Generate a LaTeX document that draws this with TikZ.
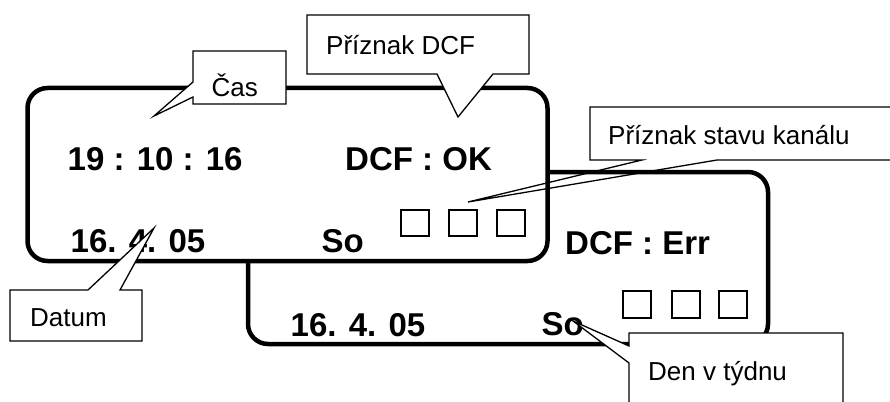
\documentclass[tikz,border=0pt]{standalone}
\usepackage{fontspec}
\setmainfont{Liberation Sans}
\begin{document}
\begin{tikzpicture}[x=1pt,y=-1pt,
  panel/.style={draw=black, line width=4.5pt, fill=white, rounded corners=20pt},
  callout/.style={draw=black, line width=1.3pt, fill=white, line join=miter},
  calloutline/.style={draw=black, line width=1.3pt, line join=miter},
  sq/.style={draw=black, line width=1.2pt, fill=white},
  big/.style={anchor=base west, inner sep=0pt, font=\fontsize{33}{40}\selectfont\bfseries},
  lbl/.style={anchor=base west, inner sep=0pt, font=\fontsize{26}{30}\selectfont}]
\useasboundingbox (0,0) rectangle (890,401);
\clip (0,0) rectangle (890,401);
\fill[white] (0,0) rectangle (890,401);

% back panel
\draw[panel] (248,172) rectangle (768,344);
\node[big] (bdcf) at (565,254) {DCF : Err};
\node[big] (bdate) at (290.5,336) {16. 4. 05};
\node[big] (bday) at (541.5,335) {So};
\draw[sq] (623,291) rectangle ++(28,27);
\draw[sq] (672,291) rectangle ++(28,27);
\draw[sq] (719,291) rectangle ++(28,27);

% front panel
\draw[panel] (27.5,88) rectangle (547.5,261);
\node[big] (ftime) at (67.5,170) {19 : 10 : 16};
\node[big] (fdcf) at (345,170) {DCF : OK};
\node[big] (fdate) at (70.5,252) {16. 4. 05};
\node[big] (fday) at (321.5,252) {So};
\draw[sq] (401,210) rectangle ++(28,26);
\draw[sq] (449,210) rectangle ++(28,26);
\draw[sq] (497,210) rectangle ++(28,26);

% callout: Cas
\draw[callout] (193,51) -- (286,51) -- (286,104) -- (193,104) -- (193,97) -- (154,116) -- (193,82) -- cycle;
\node[lbl] (cas) at (211.5,96) {Čas};

% callout: Priznak DCF
\draw[callout] (307,15) -- (529,15) -- (529,74) -- (493,74) -- (458,117) -- (437,74) -- (307,74) -- cycle;
\node[lbl] (pdcf) at (326,55) {Příznak DCF};

% callout: Priznak stavu kanalu (pointer not filled)
\fill[white] (590,107) rectangle (900,160);
\draw[calloutline] (642,160) -- (468,202) -- (717,160) -- (900,160) -- (900,107) -- (590,107) -- (590,160) -- cycle;
\node[lbl] (pstav) at (608,144) {Příznak stavu kanálu};

% callout: Datum
\draw[callout] (10,290) -- (88,290) -- (154,228) -- (120,290) -- (142,290) -- (142,341) -- (10,341) -- cycle;
\node[lbl] (datum) at (30,326) {Datum};

% callout: Den v tydnu
\draw[callout] (629,333) -- (843,333) -- (843,420) -- (629,420) -- (629,363) -- (573,321) -- (629,346) -- cycle;
\node[lbl] (den) at (648,380) {Den v týdnu};
\end{tikzpicture}
\end{document}
